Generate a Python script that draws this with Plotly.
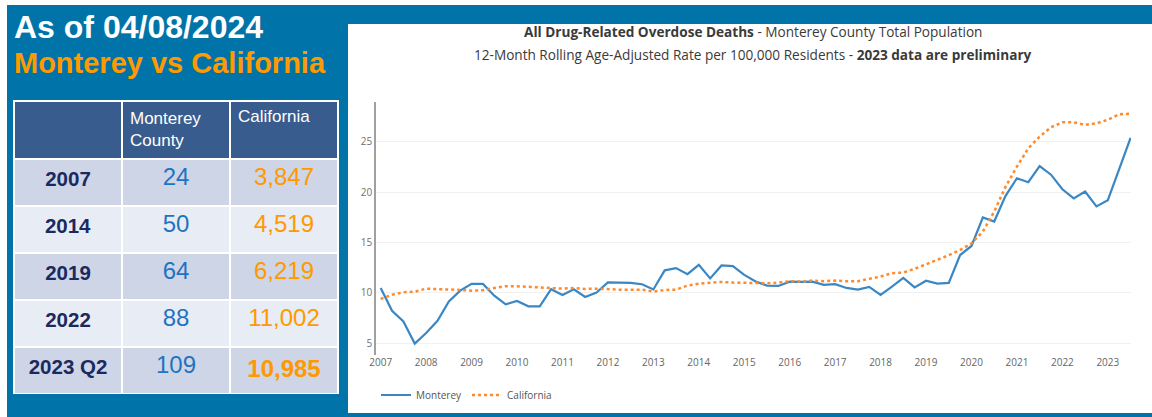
import plotly.graph_objects as go

# ---------------- data ----------------
start_year = 2007
monterey = [10.5, 8.23, 7.17, 4.97, 6.03, 7.23, 9.17, 10.23, 10.9, 10.9,
            9.73, 8.87, 9.2, 8.67, 8.67, 10.37, 9.8, 10.37, 9.6, 10.05,
            11.05, 11.03, 11.0, 10.87, 10.35, 12.25, 12.47, 11.87, 12.8, 11.45,
            12.73, 12.67, 11.8, 11.15, 10.73, 10.7, 11.13, 11.1, 11.13, 10.8,
            10.87, 10.5, 10.33, 10.6, 9.8, 10.63, 11.5, 10.55, 11.22, 10.93,
            11.0, 13.77, 14.67, 17.5, 17.1, 19.65, 21.4, 21.0, 22.6, 21.75,
            20.3, 19.4, 20.08, 18.6, 19.22, 22.3, 25.4]
california = [9.4, 9.83, 10.07, 10.13, 10.43, 10.4, 10.37, 10.3, 10.23, 10.27,
              10.5, 10.67, 10.67, 10.6, 10.53, 10.43, 10.43, 10.5, 10.4, 10.43,
              10.37, 10.33, 10.33, 10.33, 10.13, 10.3, 10.33, 10.73, 10.93, 11.0,
              11.1, 11.03, 11.0, 11.02, 10.97, 11.03, 11.17, 11.13, 11.23, 11.17,
              11.23, 11.17, 11.17, 11.4, 11.63, 11.97, 12.03, 12.4, 12.85, 13.25,
              13.75, 14.27, 14.93, 16.1, 18.08, 20.56, 22.55, 24.37, 25.53, 26.46,
              26.95, 26.95, 26.7, 26.85, 27.2, 27.75, 27.8]
quarter_x = [start_year + i / 4 for i in range(len(monterey))]
year_ticks = list(range(2007, 2024))
y_ticks = [5, 10, 15, 20, 25]

table_years = ["2007", "2014", "2019", "2022", "2023 Q2"]
monterey_counts = [24, 50, 64, 88, 109]
california_counts = [3847, 4519, 6219, 11002, 10985]
table_header = ["", "Monterey<br>County", "California"]

# ---------------- styles ----------------
W, H = 1152, 417
BLUE_BG = "#0074A8"
NAVY = "#1B2A5E"
NUM_BLUE = "#1F73C1"
ORANGE = "#FF9900"
ARIAL = "Liberation Sans, Arial, sans-serif"
OPEN = "Open Sans, Noto Sans, sans-serif"

def px(x):
    return x / W

def py(y):
    return (H - y) / H

fig = go.Figure()

fig.add_trace(go.Scatter(
    x=quarter_x, y=monterey, name="Monterey", mode="lines",
    line=dict(color="#3B87C4", width=2.2)))
fig.add_trace(go.Scatter(
    x=quarter_x, y=california, name="California", mode="lines",
    line=dict(color="#FF8A2B", width=2.5, dash="dot")))

n = len(table_years)
row_fill = ["#CED5E6" if i % 2 == 0 else "#E8ECF5" for i in range(n)]
last = n - 1
year_cells = [f"<b>{v}</b>" for v in table_years]
mont_cells = [str(v) for v in monterey_counts]
cal_cells = [f"<b>{v:,}</b>" if i == last else f"{v:,}" for i, v in enumerate(california_counts)]

fig.add_trace(go.Table(
    domain=dict(x=[px(14), px(339)], y=[py(394), py(101)]),
    columnwidth=[1, 1, 1],
    header=dict(values=table_header, fill_color="#385C8E",
                line=dict(color="white", width=2),
                align="left", height=58,
                font=dict(color="white", size=17, family=ARIAL)),
    cells=dict(values=[year_cells, mont_cells, cal_cells],
               fill_color=[row_fill, row_fill, row_fill],
               line=dict(color="white", width=2),
               align="center", height=47,
               font=dict(color=[[NAVY] * n, [NUM_BLUE] * n, [ORANGE] * n],
                         size=[20.5, 24, 24], family=ARIAL)),
))

fig.update_layout(
    width=W, height=H, autosize=False,
    margin=dict(l=0, r=0, t=0, b=0, autoexpand=False),
    paper_bgcolor="white", plot_bgcolor="rgba(0,0,0,0)",
    font=dict(family=OPEN, size=10, color="#666666"),
    showlegend=True,
    legend=dict(orientation="h", x=px(376), y=py(395), xanchor="left", yanchor="middle",
                font=dict(size=10, color="#555555", family=OPEN),
                bgcolor="rgba(0,0,0,0)"),
    xaxis=dict(domain=[px(376), px(1131)], range=[2006.897, 2023.51], automargin=False,
               tickmode="array", tickvals=year_ticks, ticktext=[str(y) for y in year_ticks],
               showgrid=False, zeroline=False, showline=False,
               tickfont=dict(size=10, color="#666666")),
    yaxis=dict(domain=[py(355), py(101.7)], range=[3.84, 29.0], automargin=False,
               tickmode="array", tickvals=y_ticks,
               showgrid=True, gridcolor="#F1F1F1", gridwidth=1,
               zeroline=False, showline=True, linecolor="#A0A0A0", linewidth=1.5,
               tickfont=dict(size=10, color="#707070")),
    shapes=[
        dict(type="rect", xref="paper", yref="paper", x0=px(7), x1=1, y0=0, y1=py(5),
             fillcolor=BLUE_BG, line=dict(width=0), layer="below"),
        dict(type="rect", xref="paper", yref="paper", x0=px(348), x1=1, y0=py(413), y1=py(24),
             fillcolor="white", line=dict(width=0), layer="below"),
    ],
    annotations=[
        dict(text="<b>As of 04/08/2024</b>", xref="paper", yref="paper",
             x=px(12), y=py(27), xanchor="left", yanchor="middle", showarrow=False,
             font=dict(family=ARIAL, size=32, color="white")),
        dict(text="<b>Monterey vs California</b>", xref="paper", yref="paper",
             x=px(12), y=py(63), xanchor="left", yanchor="middle", showarrow=False,
             font=dict(family=ARIAL, size=29, color=ORANGE)),
        dict(text="<b>All Drug-Related Overdose Deaths</b> - Monterey County Total Population",
             xref="paper", yref="paper", x=px(753), y=py(32), xanchor="center", yanchor="middle",
             showarrow=False, font=dict(family=OPEN, size=13.6, color="#3A3A3A")),
        dict(text="12-Month Rolling Age-Adjusted Rate per 100,000 Residents - <b>2023 data are preliminary</b>",
             xref="paper", yref="paper", x=px(753), y=py(55), xanchor="center", yanchor="middle",
             showarrow=False, font=dict(family=OPEN, size=13.6, color="#3A3A3A")),
    ],
)

fig.write_html("out.html", config={"displayModeBar": False},
               post_script="document.body.style.margin='0';document.body.style.overflow='hidden';")
